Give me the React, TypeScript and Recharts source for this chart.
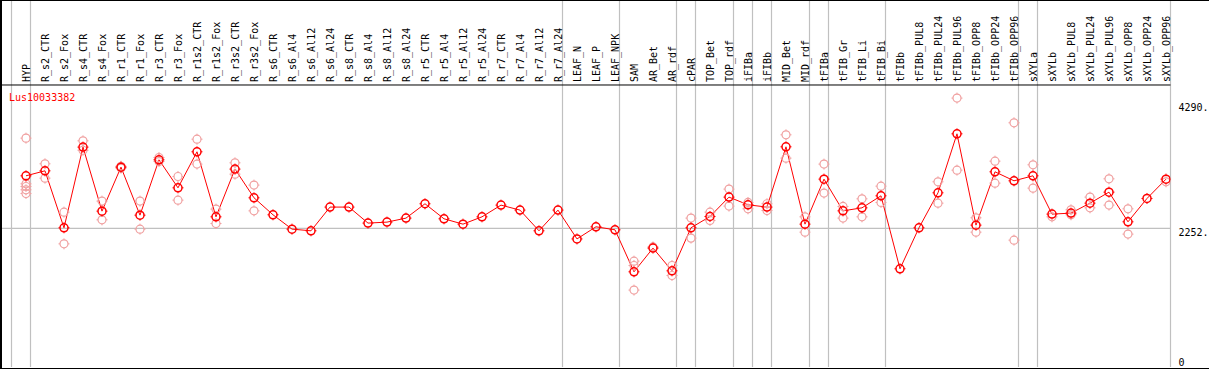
import { ComposedChart, Line, Scatter, XAxis, YAxis, ReferenceLine } from 'recharts'

const CATEGORIES = [
  'HYP', 'R_s2_CTR', 'R_s2_Fox', 'R_s4_CTR', 'R_s4_Fox', 'R_r1_CTR', 'R_r1_Fox', 'R_r3_CTR', 'R_r3_Fox',
  'R_r1s2_CTR', 'R_r1s2_Fox', 'R_r3s2_CTR', 'R_r3s2_Fox', 'R_s6_CTR', 'R_s6_Al4', 'R_s6_Al12', 'R_s6_Al24',
  'R_s8_CTR', 'R_s8_Al4', 'R_s8_Al12', 'R_s8_Al24', 'R_r5_CTR', 'R_r5_Al4', 'R_r5_Al12', 'R_r5_Al24',
  'R_r7_CTR', 'R_r7_Al4', 'R_r7_Al12', 'R_r7_Al24', 'LEAF_N', 'LEAF_P', 'LEAF_NPK', 'SAM', 'AR_Bet', 'AR_rdf',
  'cPAR', 'TOP_Bet', 'TOP_rdf', 'iFIBa', 'iFIBb', 'MID_Bet', 'MID_rdf', 'tFIBa', 'tFIB_Gr', 'tFIB_Li', 'tFIB_Bi',
  'tFIBb', 'tFIBb_PUL8', 'tFIBb_PUL24', 'tFIBb_PUL96', 'tFIBb_OPP8', 'tFIBb_OPP24', 'tFIBb_OPP96',
  'sXYLa', 'sXYLb', 'sXYLb_PUL8', 'sXYLb_PUL24', 'sXYLb_PUL96', 'sXYLb_OPP8', 'sXYLb_OPP24', 'sXYLb_OPP96',
]

// mean expression per sample
const MEAN = [
  3105, 3186, 2261, 3571, 2531, 3246, 2466, 3365, 2910, 3495, 2439, 3214, 2748, 2472, 2239, 2212, 2597,
  2597, 2337, 2353, 2418, 2651, 2407, 2320, 2439, 2629, 2548, 2212, 2548, 2080, 2277, 2228, 1546, 1931, 1562,
  2261, 2444, 2759, 2634, 2597, 3576, 2320, 3051, 2536, 2585, 2780, 1595, 2261, 2829, 3787, 2304, 3170, 3024,
  3105, 2483, 2499, 2661, 2840, 2358, 2737, 3051,
]

// individual replicates
const REPLICATES: number[][] = [
  [3717, 2975, 2931, 2878, 2818], [3300, 3067], [2515, 2000], [3673, 3520], [2694, 2390], [3260, 3230],
  [2694, 2239], [3402, 3337], [3094, 2710], [3700, 3295], [2564, 2330], [3316, 3132], [2954, 2536],
  [], [], [], [], [], [], [], [], [], [], [], [], [], [], [], [], [], [], [],
  [1719, 1648, 1249], [1950], [1648, 1486], [2418, 2093], [2515, 2380], [2889, 2613], [2672, 2569],
  [2651, 2542], [3771, 3392], [2439, 2190], [3295, 2824], [2607, 2418], [2731, 2439], [2937, 2672],
  [], [], [3008, 2661], [4367, 3197], [2423, 2190], [3343, 2986], [3966, 2060],
  [3284, 2905], [2439], [2553, 2472], [2759, 2585], [3056, 2629], [2569, 2158], [], [3008],
]

const Y_TICKS = [0, 2252, 4290]
const Y_TICK_TEXT: Record<number, string> = { 0: '0', 2252: '2252.', 4290: '4290.' }
// last sample index of each group (separator drawn after it)
const GROUP_ENDS = [-1, 0, 28, 31, 34, 35, 37, 38, 39, 41, 42, 45, 52, 53, 60]

const HEADER_VALUE = 4580
const Y_MAX = 5944
const X_MIN = -1.263
const X_MAX = 60.237
const PLOT_RIGHT = 1170.5
const FONT = '"DejaVu Sans Mono", monospace'

const rows = MEAN.map((mean, i) => ({ i, mean }))
const repRows = REPLICATES.flatMap((reps, i) => reps.map(v => ({ i, v })))

function HeaderTick({ x, payload }: any) {
  const bx = x + 4
  return (
    <text x={bx} y={82} transform={`rotate(-90, ${bx}, 82)`} textAnchor="start"
      fontSize={10} fontFamily={FONT} fill="#000">
      {CATEGORIES[payload.value]}
    </text>
  )
}

function ValueTick({ y, payload }: any) {
  const ty = payload.value === 0 ? 366 : y + 8
  return (
    <text x={PLOT_RIGHT + 8} y={ty} fontSize={10} fontFamily={FONT} fill="#000">
      {Y_TICK_TEXT[payload.value]}
    </text>
  )
}

function SunDot({ cx, cy, color, width }: any) {
  if (cx == null || cy == null) return null
  return (
    <g>
      <circle cx={cx} cy={cy} r={4} fill="none" stroke={color} strokeWidth={width} />
      <line x1={cx} y1={cy - 4} x2={cx} y2={cy - 5.5} stroke={color} strokeWidth={1} />
      <line x1={cx} y1={cy + 4} x2={cx} y2={cy + 5.5} stroke={color} strokeWidth={1} />
      <line x1={cx - 4} y1={cy} x2={cx - 5.5} y2={cy} stroke={color} strokeWidth={1} />
      <line x1={cx + 4} y1={cy} x2={cx + 5.5} y2={cy} stroke={color} strokeWidth={1} />
    </g>
  )
}

export default function App() {
  return (
    <div style={{ position: 'absolute', left: 0, top: 0, width: 1209, height: 370, background: '#fff' }}>
      <ComposedChart width={1209} height={370} data={rows} margin={{ top: 0, right: 0, bottom: 3, left: 2 }}>
        <XAxis type="number" dataKey="i" domain={[X_MIN, X_MAX]} orientation="top" height={1}
          ticks={CATEGORIES.map((_, i) => i)} interval={0} tick={<HeaderTick />}
          axisLine={false} tickLine={false} allowDataOverflow />
        <YAxis type="number" domain={[0, Y_MAX]} orientation="right" width={38.5} ticks={Y_TICKS}
          interval={0} tick={<ValueTick />} axisLine={false} tickLine={false} allowDataOverflow />
        {GROUP_ENDS.map(g => (
          <ReferenceLine key={g} x={g + 0.237} stroke="#c0c0c0" strokeWidth={1.2} />
        ))}
        <ReferenceLine y={2252} stroke="#c0c0c0" strokeWidth={1.2} />
        <ReferenceLine y={HEADER_VALUE} stroke="#000" strokeWidth={1} />
        <Scatter data={repRows} dataKey="v" isAnimationActive={false}
          shape={(p: any) => <SunDot cx={p.cx} cy={p.cy} color="#f0a0a0" width={1.2} />} />
        <Line dataKey="mean" stroke="#ff0000" strokeWidth={1} isAnimationActive={false}
          dot={(p: any) => <SunDot key={p.index} cx={p.cx} cy={p.cy} color="#ff0000" width={1.5} />}
          activeDot={false} />
      </ComposedChart>
      <div style={{ position: 'absolute', left: 0, top: 0, width: 1209, height: 369, boxSizing: 'border-box',
        borderTop: '1px solid #000', borderLeft: '2px solid #000', borderBottom: '1.5px solid #000',
        pointerEvents: 'none' }} />
      <div style={{ position: 'absolute', left: 9, top: 92.5, fontSize: 10, lineHeight: '10px',
        fontFamily: FONT, color: '#ff0000' }}>Lus10033382</div>
    </div>
  )
}
